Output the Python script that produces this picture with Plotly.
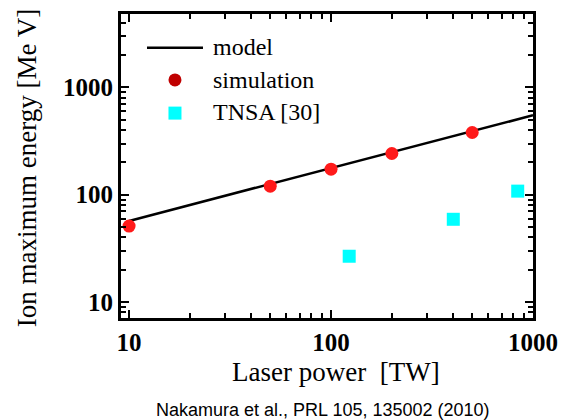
import plotly.graph_objects as go

# data
model_power = [10, 1000]
model_energy = [57, 550]
sim_power = [10, 50, 100, 200, 500]
sim_energy = [51, 120, 173, 242, 380]
tnsa_power = [123, 403, 840]
tnsa_energy = [26.7, 59, 108]
legend_labels = ["model", "simulation", "TNSA [30]"]

serif = "Liberation Serif"
sim_color = "#ff1a1a"
sim_legend_color = "#c00000"
tnsa_color = "#00ffff"

fig = go.Figure()
fig.add_trace(go.Scatter(x=model_power, y=model_energy, mode="lines", name=legend_labels[0],
                         showlegend=False, line=dict(color="black", width=2.6)))
fig.add_trace(go.Scatter(x=sim_power, y=sim_energy, mode="markers", name=legend_labels[1],
                         showlegend=False,
                         marker=dict(color=sim_color, size=13, symbol="circle")))
fig.add_trace(go.Scatter(x=tnsa_power, y=tnsa_energy, mode="markers", name=legend_labels[2],
                         showlegend=False,
                         marker=dict(color=tnsa_color, size=13, symbol="square")))

axis_common = dict(
    type="log", showgrid=False, zeroline=False, automargin=False,
    showline=True, linecolor="black", linewidth=3, mirror="allticks",
    ticks="inside", ticklen=8, tickwidth=2, tickcolor="black",
    dtick=1, exponentformat="none",
    tickfont=dict(family=serif, size=25, color="black", weight="bold"),
    minor=dict(ticks="inside", ticklen=5, tickwidth=2, tickcolor="black", showgrid=False),
)

# hand-drawn legend (line sample + markers + labels)
leg_x_text = 0.2184
leg_rows_y = [0.889, 0.783, 0.674]
shapes = [
    dict(type="line", xref="paper", yref="paper", x0=0.0631, x1=0.199,
         y0=leg_rows_y[0], y1=leg_rows_y[0], line=dict(color="black", width=2.6)),
    dict(type="circle", xref="paper", yref="paper", xsizemode="pixel", ysizemode="pixel",
         xanchor=0.131, yanchor=leg_rows_y[1], x0=-6.5, x1=6.5, y0=-6.5, y1=6.5,
         fillcolor=sim_legend_color, line=dict(width=0)),
    dict(type="rect", xref="paper", yref="paper", xsizemode="pixel", ysizemode="pixel",
         xanchor=0.131, yanchor=leg_rows_y[2], x0=-6.5, x1=6.5, y0=-6.5, y1=6.5,
         fillcolor=tnsa_color, line=dict(width=0)),
]
annotations = [
    dict(text=lab, xref="paper", yref="paper", x=leg_x_text, y=yy, xanchor="left",
         yanchor="middle", showarrow=False, font=dict(family=serif, size=24, color="black"))
    for lab, yy in zip(legend_labels, [0.891, 0.783, 0.678])
]
annotations += [
    dict(text="Laser power  [TW]", xref="paper", yref="paper", x=0.522, y=-0.178,
         xanchor="center", yanchor="middle", showarrow=False,
         font=dict(family=serif, size=27, color="black")),
    dict(text="Ion maximum energy [Me V]", xref="paper", yref="paper", x=-0.228, y=0.493,
         xanchor="center", yanchor="middle", showarrow=False, textangle=-90,
         font=dict(family=serif, size=27, color="black")),
    dict(text="Nakamura et al., PRL 105, 135002 (2010)", xref="paper", yref="paper",
         x=0.4915, y=-0.302, xanchor="center", yanchor="middle", showarrow=False,
         font=dict(family="Liberation Sans", size=18, color="black")),
]

fig.update_layout(
    width=563, height=420,
    margin=dict(l=121, r=30, t=14, b=102),
    paper_bgcolor="white", plot_bgcolor="white",
    showlegend=False,
    xaxis=dict(axis_common, range=[0.96, 3.0]),
    yaxis=dict(axis_common, range=[0.851, 3.684]),
    shapes=shapes,
    annotations=annotations,
)

fig.write_html(
    "out.html",
    config={"displayModeBar": False, "staticPlot": True},
    post_script="document.body.style.margin='0';document.documentElement.style.overflow='hidden';",
)
